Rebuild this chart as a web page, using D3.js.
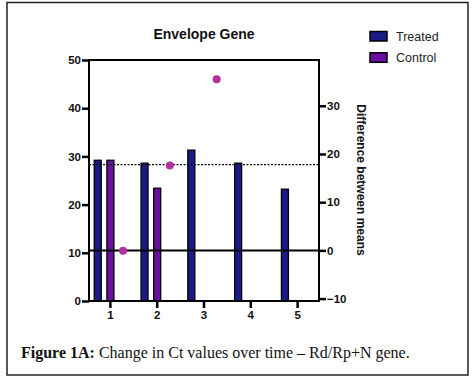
<!DOCTYPE html>
<html>
<head>
<meta charset="utf-8">
<script src="https://cdn.jsdelivr.net/npm/d3@7"></script>
<style>
  body { margin: 0; background: #fff; }
</style>
</head>
<body>
<div id="canvas"></div>
<script>
"use strict"

/* data */
let groups = ["1", "2", "3", "4", "5"];
let treated = [29.2, 28.6, 31.3, 28.6, 23.2];
let control = [29.2, 23.4, null, null, null];
let difference = [-0.1, 17.6, 35.5, null, null];
let leftTicks = [0, 10, 20, 30, 40, 50];
let rightTicks = [-10, 0, 10, 20, 30];
let dottedLineValue = 28.3;

let sans = "'Liberation Sans', Arial, sans-serif";
let serif = "'Liberation Serif', 'Times New Roman', serif";

let drawing = d3.select("#canvas")
  .append("svg")
  .attr("width", 474)
  .attr("height", 380)
  .attr("font-family", sans);

/* outer frame */
drawing.append("rect")
  .attr("x", 7).attr("y", 2.5)
  .attr("width", 461).attr("height", 372.5)
  .attr("fill", "none")
  .attr("stroke", "#222")
  .attr("stroke-width", 1.5);

let plotLeft = 89, plotRight = 319, plotTop = 60, plotBottom = 301;

let x = d3.scaleBand(groups, [87, 321]);
let slot = d3.scaleBand(["Treated", "Control", "Diff"], [-19, 19]);
let yLeft = d3.scaleLinear([0, 50], [plotBottom, plotTop]);
let yRight = d3.scaleLinear([-10.5, 39.5], [plotBottom, plotTop]);

let center = g => x(g) + x.bandwidth() / 2;

/* title */
drawing.append("text")
  .attr("x", 204).attr("y", 39)
  .attr("text-anchor", "middle")
  .attr("font-size", 14)
  .attr("font-weight", "bold")
  .attr("fill", "#111")
  .text("Envelope Gene");

/* bars */
let barW = 7;
drawing.selectAll(".treated")
  .data(groups)
  .enter().append("rect")
  .attr("x", (g, i) => center(g) + slot("Treated") + slot.bandwidth() / 2 - barW / 2)
  .attr("y", (g, i) => yLeft(treated[i]))
  .attr("width", barW)
  .attr("height", (g, i) => yLeft(0) - yLeft(treated[i]))
  .attr("fill", "#1b1b88")
  .attr("stroke", "#000")
  .attr("stroke-width", 1.3);

drawing.selectAll(".control")
  .data(groups.filter((g, i) => control[i] != null))
  .enter().append("rect")
  .attr("x", g => center(g) + slot("Control") + slot.bandwidth() / 2 - barW / 2)
  .attr("y", g => yLeft(control[groups.indexOf(g)]))
  .attr("width", barW)
  .attr("height", g => yLeft(0) - yLeft(control[groups.indexOf(g)]))
  .attr("fill", "#6a10a0")
  .attr("stroke", "#000")
  .attr("stroke-width", 1.3);

/* reference lines */
drawing.append("line")
  .attr("x1", plotLeft).attr("x2", plotRight)
  .attr("y1", yRight(0)).attr("y2", yRight(0))
  .attr("stroke", "#000")
  .attr("stroke-width", 2);

drawing.append("line")
  .attr("x1", plotLeft).attr("x2", plotRight)
  .attr("y1", yLeft(dottedLineValue)).attr("y2", yLeft(dottedLineValue))
  .attr("stroke", "#000")
  .attr("stroke-width", 1.2)
  .attr("stroke-dasharray", "2,1.5");

/* difference points */
drawing.selectAll(".diff")
  .data(groups.filter((g, i) => difference[i] != null))
  .enter().append("circle")
  .attr("cx", g => center(g) + slot("Diff") + slot.bandwidth() / 2)
  .attr("cy", g => yRight(difference[groups.indexOf(g)]))
  .attr("r", 4)
  .attr("fill", "#b3309f");

/* plot box */
drawing.append("rect")
  .attr("x", plotLeft).attr("y", plotTop)
  .attr("width", plotRight - plotLeft).attr("height", plotBottom - plotTop)
  .attr("fill", "none")
  .attr("stroke", "#000")
  .attr("stroke-width", 2);

/* axes */
let leftAxis = drawing.append("g")
  .attr("transform", `translate(${plotLeft},0)`)
  .call(d3.axisLeft(yLeft).tickValues(leftTicks).tickSize(7).tickSizeOuter(0).tickPadding(1));

let rightAxis = drawing.append("g")
  .attr("transform", `translate(${plotRight},0)`)
  .call(d3.axisRight(yRight).tickValues(rightTicks).tickSize(7).tickSizeOuter(0).tickPadding(1));

let bottomAxis = drawing.append("g")
  .attr("transform", `translate(0,${plotBottom})`)
  .call(d3.axisBottom(x).tickSize(7).tickSizeOuter(0).tickPadding(3));

[leftAxis, rightAxis, bottomAxis].forEach(a => {
  a.attr("font-family", sans);
  a.select(".domain").remove();
  a.selectAll(".tick line").attr("stroke", "#000").attr("stroke-width", 2.5);
  a.selectAll(".tick text")
    .attr("font-size", 11.5)
    .attr("font-weight", "bold")
    .attr("fill", "#111");
});

/* right axis title */
drawing.append("text")
  .attr("transform", "translate(357,180) rotate(90)")
  .attr("text-anchor", "middle")
  .attr("font-size", 12)
  .attr("font-weight", "bold")
  .attr("fill", "#111")
  .text("Difference between means");

/* legend */
let legendItems = [["Treated", "#1b1b88"], ["Control", "#6a10a0"]];
let legend = drawing.selectAll(".legend")
  .data(legendItems)
  .enter().append("g")
  .attr("transform", (d, i) => `translate(370,${31.5 + i * 21.3})`);

legend.append("rect")
  .attr("width", 17).attr("height", 9.5)
  .attr("fill", d => d[1])
  .attr("stroke", "#000")
  .attr("stroke-width", 1.5);

legend.append("text")
  .attr("x", 26).attr("y", 9)
  .attr("font-size", 12.5)
  .attr("fill", "#222")
  .text(d => d[0]);

/* caption */
let caption = drawing.append("text")
  .attr("x", 21).attr("y", 358)
  .attr("font-family", serif)
  .attr("font-size", 16)
  .attr("fill", "#111");
caption.append("tspan").attr("font-weight", "bold").text("Figure 1A:");
caption.append("tspan").text(" Change in Ct values over time \u2013 Rd/Rp+N gene.");
</script>
</body>
</html>
